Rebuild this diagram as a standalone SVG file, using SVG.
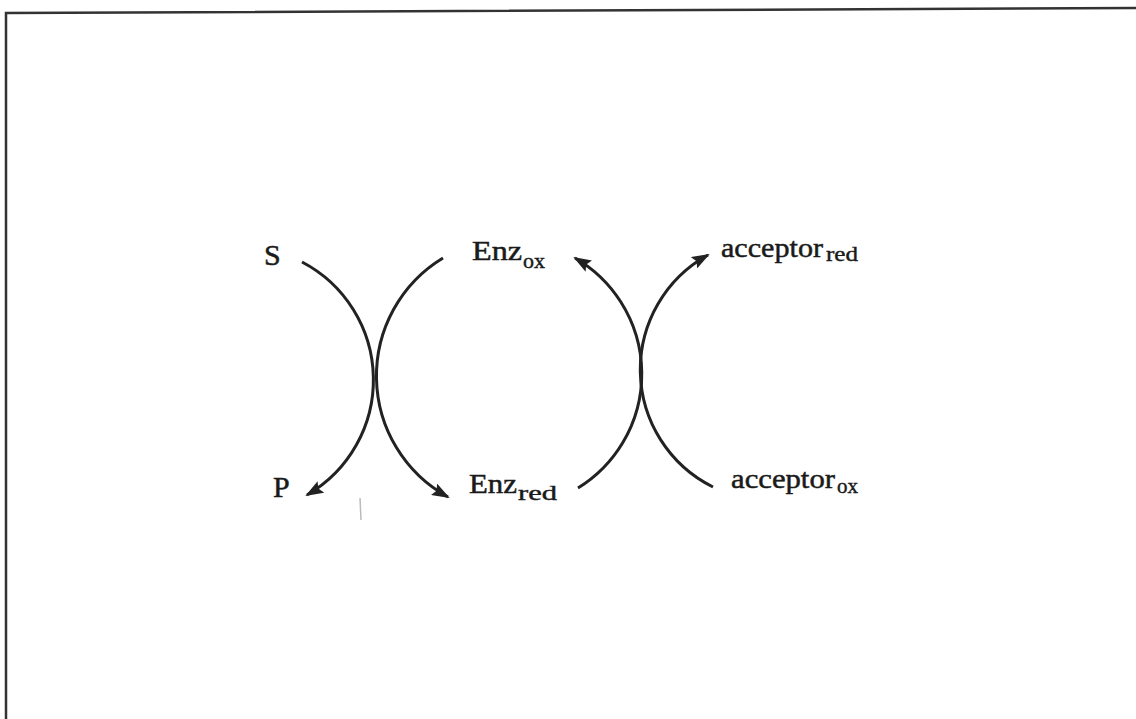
<svg xmlns="http://www.w3.org/2000/svg" width="1136" height="719" viewBox="0 0 1136 719">
<style>
  .lbl { font-family: "Liberation Serif", "DejaVu Serif", serif; font-size: 28px; fill: #1a1a1a; stroke: #1a1a1a; stroke-width: 0.5; }
  .big { font-size: 30px; }
  .sub { font-family: "Liberation Serif", "DejaVu Serif", serif; font-size: 20px; fill: #1a1a1a; stroke: #1a1a1a; stroke-width: 0.4; }
  .arc { fill: none; stroke: #222; stroke-width: 3; }
  .frame { stroke: #333; stroke-width: 2.5; fill: none; }
</style>
<defs>
  <marker id="ah" viewBox="0 0 18 13" refX="16" refY="6.5" markerWidth="18" markerHeight="13" markerUnits="userSpaceOnUse" orient="auto">
    <path d="M0,0 L18,6.5 L0,13 L3,6.5 Z" fill="#222"/>
  </marker>
</defs>
<rect width="1136" height="719" fill="#ffffff"/>
<g id="frame">
  <path class="frame" d="M6,719 L6,13 L1136,8"/>
</g>
<g id="connectors">
  <path class="arc" d="M302,262 A133 133 0 0 1 307,495" marker-end="url(#ah)"/>
  <path class="arc" d="M443,258 A138 138 0 0 0 448,497" marker-end="url(#ah)"/>
  <path class="arc" d="M578,488 A134 134 0 0 0 575,258" marker-end="url(#ah)"/>
  <path class="arc" d="M713,487 A131 131 0 0 1 708,255" marker-end="url(#ah)"/>
  <line x1="360" y1="498" x2="361" y2="520" stroke="#bbb" stroke-width="1.5"/>
</g>
<g id="node-S"><text class="lbl big" x="264" y="265">S</text></g>
<g id="node-P"><text class="lbl big" x="273" y="497">P</text></g>
<g id="node-Enzox"><text class="lbl" x="472" y="260" textLength="50" lengthAdjust="spacingAndGlyphs">Enz</text><text class="sub" x="523" y="268" textLength="22" lengthAdjust="spacingAndGlyphs">ox</text></g>
<g id="node-Enzred"><text class="lbl" x="469" y="493" textLength="48" lengthAdjust="spacingAndGlyphs">Enz</text><text class="sub" x="518" y="500" textLength="39" lengthAdjust="spacingAndGlyphs">red</text></g>
<g id="node-accred"><text class="lbl" x="721" y="257" textLength="102" lengthAdjust="spacingAndGlyphs">acceptor</text><text class="sub" x="826" y="261" textLength="32" lengthAdjust="spacingAndGlyphs">red</text></g>
<g id="node-accox"><text class="lbl" x="731" y="488" textLength="104" lengthAdjust="spacingAndGlyphs">acceptor</text><text class="sub" x="837" y="493" textLength="21" lengthAdjust="spacingAndGlyphs">ox</text></g>
</svg>
